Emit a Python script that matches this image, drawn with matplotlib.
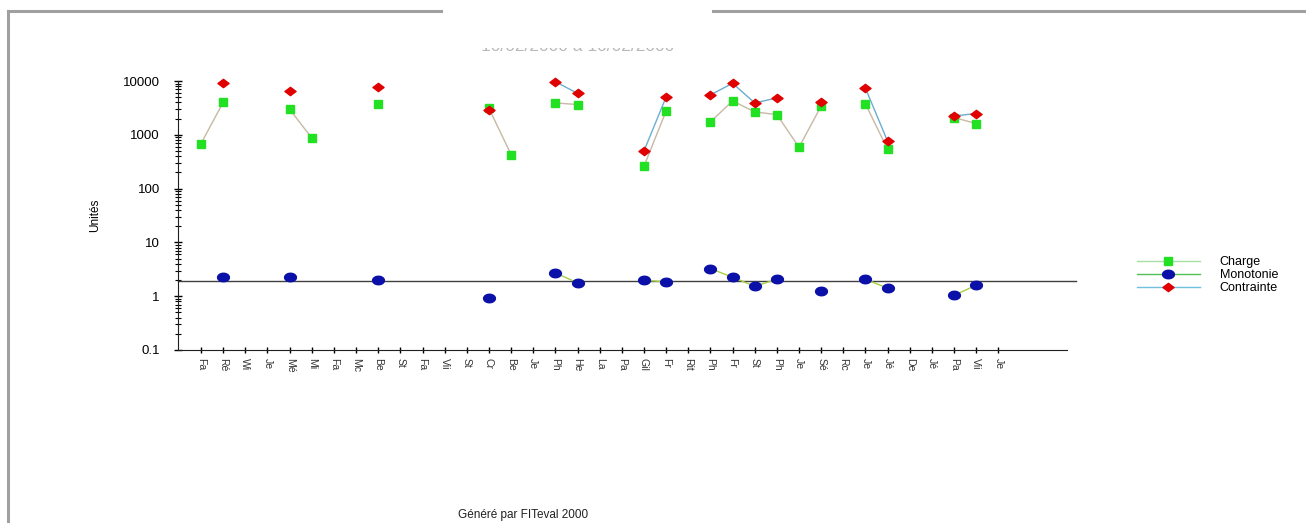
import numpy as np
import matplotlib
matplotlib.use("Agg")
import matplotlib.pyplot as plt
from matplotlib.lines import Line2D
from matplotlib.patches import Rectangle
from matplotlib.path import Path

plt.rcParams["font.family"] = ["Liberation Sans", "DejaVu Sans"]

labels = ["Fa", "Ré", "Wi", "Je", "Mé", "Mi", "Fa", "Mc", "Be", "St", "Fa", "Vii",
          "St", "Cr", "Be", "Je", "Ph", "He", "La", "Pa", "Gil", "Fr", "Rit", "Ph",
          "Fr", "St", "Ph", "Je", "Sé", "Rc", "Je", "Jé", "De", "Jé", "Pa", "Vii", "Je"]

N = None
charge = [690, 4040, N, N, 2990, 875, N, N, 3800, N, N, N,
          N, 3100, 430, N, 3920, 3660, N, N, 261, 2780, N, 1740,
          4270, 2670, 2380, 588, 3440, N, 3750, 540, N, N, 2100, 1620, N]
monotonie = [N, 2.32, N, N, 2.32, N, N, N, 1.96, N, N, N,
             N, 0.93, N, N, 2.71, 1.77, N, N, 1.98, 1.85, N, 3.27,
             2.25, 1.53, 2.07, N, 1.26, N, 2.07, 1.41, N, N, 1.04, 1.60, N]
contrainte = [N, 9380, N, N, 6660, N, N, N, 7670, N, N, N,
              N, 2850, N, N, 9700, 5930, N, N, 502, 5070, N, 5520,
              9100, 3920, 4850, N, 4090, N, 7350, 760, N, N, 2245, 2490, N]
seuil = 1.95

def arr(v):
    return np.array([np.nan if x is None else x for x in v], dtype=float)

x = np.arange(len(labels))

# wide markers (ellipse / flat diamond)
t = np.linspace(0, 2 * np.pi, 40)
ellipse = Path(np.column_stack([np.cos(t), 0.72 * np.sin(t)]), closed=True)
diamond = Path([(-1, 0), (0, 0.75), (1, 0), (0, -0.75), (-1, 0)], closed=True)

fig = plt.figure(figsize=(13.06, 5.23), dpi=100)
fig.patch.set_facecolor("white")
ax = fig.add_axes([0.1363, 0.3308, 0.8170 - 0.1363, 0.845 - 0.3308])

ax.plot(x, arr(charge), color="#c8b8a4", lw=1, marker="s", ms=5.5,
        mfc="#22e022", mec="#22e022", zorder=3, clip_on=False)
ax.plot(x, arr(monotonie), color="#a8d040", lw=1, marker=ellipse, ms=8.5,
        mfc="#0a10a8", mec="#0a10a8", zorder=3, clip_on=False)
ax.plot(x, arr(contrainte), color="#6aaed0", lw=1, marker=diamond, ms=8,
        mfc="#e00000", mec="#e00000", zorder=4, clip_on=False)

ax.axhline(seuil, xmin=0, xmax=1.01, color="#404040", lw=1, clip_on=False, zorder=2)

ax.set_yscale("log")
ax.set_ylim(0.1, 10000)
ax.set_xlim(-1.04, 39.1)
ax.set_yticks([0.1, 1, 10, 100, 1000, 10000])
ax.set_yticklabels(["0.1", "1", "10", "100", "1000", "10000"])
ax.set_xticks(x)
ax.set_xticklabels(labels, rotation=-90, fontsize=7.5, color="#333333")
ax.tick_params(axis="y", which="major", direction="inout", length=6, width=1,
               labelsize=9.5, pad=10)
ax.tick_params(axis="y", which="minor", direction="inout", length=4, width=0.8)
ax.tick_params(axis="x", direction="inout", length=5, width=1, pad=3)
for s in ["top", "right"]:
    ax.spines[s].set_visible(False)
for s in ["left", "bottom"]:
    ax.spines[s].set_color("#202020")
ax.set_ylabel("Unités", fontsize=8.5, labelpad=16)

# legend drawn like the original
handles = [
    Line2D([], [], color="#a8e0a8", lw=1, marker="s", ms=5.5, mfc="#22e022", mec="#22e022"),
    Line2D([], [], color="#50c050", lw=1, marker=ellipse, ms=8.5, mfc="#0a10a8", mec="#0a10a8"),
    Line2D([], [], color="#70c0e0", lw=1, marker=diamond, ms=8, mfc="#e00000", mec="#e00000"),
]
fig.legend(handles, ["Charge", "Monotonie", "Contrainte"], loc="center left",
           bbox_to_anchor=(0.862, 0.474), frameon=False, fontsize=9,
           handlelength=5.0, handletextpad=1.6, labelspacing=0.08)

# faint, cut-off title
fig.text(0.442, 0.911, "10/02/2000 à 10/02/2000", ha="center", va="center",
         fontsize=12.5, color="#b8b8b8")
fig.patches.append(Rectangle((0.35, 0.909), 0.19, 0.05, transform=fig.transFigure,
                             facecolor="white", edgecolor="none", zorder=10))

fig.text(0.4005, 0.004, "Généré par FITeval 2000", ha="center", va="bottom",
         fontsize=8.5, color="#222222")

# grey frame
fc = "#a0a0a0"
for xs, ys in [([8 / 1306, 8 / 1306], [0, 1 - 11 / 523]),
               ([8 / 1306, 441 / 1306], [1 - 11 / 523] * 2),
               ([713 / 1306, 1.0], [1 - 11 / 523] * 2)]:
    fig.add_artist(Line2D(xs, ys, color=fc, lw=2.2, transform=fig.transFigure,
                          zorder=11))

fig.savefig("out.png", dpi=100, facecolor="white")
